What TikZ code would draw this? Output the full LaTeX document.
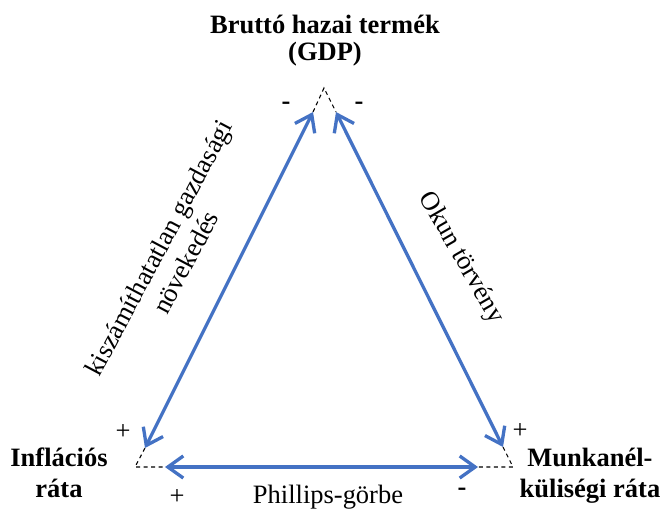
\documentclass[tikz,border=0pt]{standalone}
\usepackage{fontspec}
\setmainfont{Liberation Serif}
\usepackage{tikz}
\usetikzlibrary{arrows.meta}
\definecolor{officeblue}{RGB}{68,114,196}
\newcommand{\pxunit}{0.453pt}
\newcommand{\labelfont}{\fontsize{12}{13.8}\selectfont}
\tikzset{
    common/.style={inner sep=0pt, font=\labelfont},
    corner/.style={common, align=center, font=\labelfont\bfseries},
    link/.style={common, align=center},
    sign/.style={common},
    boldsign/.style={common, font=\labelfont\bfseries},
    rel/.style={{Straight Barb[length=7pt, width=10pt]}-{Straight Barb[length=7pt, width=10pt]}, officeblue, line width=1.5pt},
    guide/.style={line width=0.5pt, dash pattern=on 1.8pt off 1.6pt}
}

\begin{document}
\begin{tikzpicture}[x=\pxunit, y=-\pxunit]
  \useasboundingbox (0,0) rectangle (665,519);

  % vertices of the triangle
  \coordinate (G) at (324,88);
  \coordinate (I) at (135,467);
  \coordinate (M) at (513,467);

  % ends of the arrows
  \coordinate (G-left) at (313,112);
  \coordinate (G-right) at (336,112);
  \coordinate (I-top) at (145,448);
  \coordinate (I-right) at (165,467);
  \coordinate (M-top) at (503,447);
  \coordinate (M-left) at (478,467);

  % corner labels (base = last line)
  \node[corner, anchor=base] (GDP) at (325,60) {Bruttó hazai termék\\[-1.6pt](GDP)};
  \node[corner, anchor=base] (INF) at (59,497) {Inflációs\\ráta};
  \node[corner, anchor=base] (MUN) at (590,497) {Munkanél-\\küliségi ráta};

  % side labels
  \node[link, rotate=62] (GROWTH) at (172,255) {kiszámíthatatlan gazdasági\\növekedés};
  \node[link, rotate=-60] (OKUN) at (461,258) {Okun törvény};
  \node[link, anchor=base] (PHIL) at (328,503) {Phillips-görbe};

  % signs
  \node[boldsign] (G-sign-left) at (286,106) {-};
  \node[boldsign] (G-sign-right) at (359,106) {-};
  \node[sign] (I-sign-top) at (123,432) {+};
  \node[sign] (I-sign-right) at (177,497) {+};
  \node[sign] (M-sign-top) at (520,431) {+};
  \node[boldsign] (M-sign-left) at (462,492) {-};

  \draw[rel] (G-left) -- (I-top);
  \draw[rel] (G-right) -- (M-top);
  \draw[rel] (I-right) -- (M-left);

  \draw[guide]
    (G-left) -- (G) -- (G-right)
    (I-top) -- (I) -- (I-right)
    (M-top) -- (M) -- (M-left);
\end{tikzpicture}
\end{document}
